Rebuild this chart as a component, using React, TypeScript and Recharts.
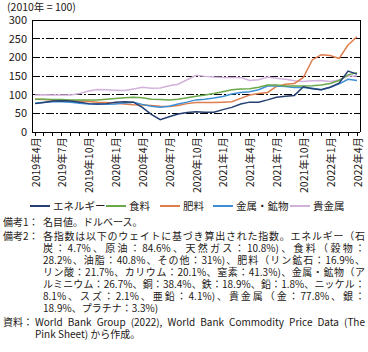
import React from "react";
import { LineChart, Line, XAxis, YAxis, ReferenceLine } from "recharts";

const months = [
  "2019年4月", "2019年5月", "2019年6月", "2019年7月", "2019年8月", "2019年9月",
  "2019年10月", "2019年11月", "2019年12月", "2020年1月", "2020年2月", "2020年3月",
  "2020年4月", "2020年5月", "2020年6月", "2020年7月", "2020年8月", "2020年9月",
  "2020年10月", "2020年11月", "2020年12月", "2021年1月", "2021年2月", "2021年3月",
  "2021年4月", "2021年5月", "2021年6月", "2021年7月", "2021年8月", "2021年9月",
  "2021年10月", "2021年11月", "2021年12月", "2022年1月", "2022年2月", "2022年3月",
  "2022年4月",
];

const energy = [
  76, 79, 83, 84, 83, 80, 76, 75, 76, 80, 81, 80, 66, 47, 33, 41, 48, 52, 54,
  53, 53, 60, 66, 75, 80, 80, 86, 93, 96, 98, 121, 116, 113, 120, 131, 163, 155,
];
const food = [
  88, 88, 87, 87, 86, 86, 86, 86, 88, 90, 92, 93, 92, 88, 87, 86, 88, 92, 96,
  99, 103, 108, 113, 115, 116, 120, 126, 126, 123, 123, 123, 124, 126, 130, 138, 153, 159,
];
const fertilizer = [
  88, 87, 86, 85, 84, 83, 82, 80, 79, 77, 75, 73, 72, 71, 69, 68, 71, 76, 79,
  79, 79, 80, 81, 90, 99, 103, 106, 122, 128, 130, 146, 193, 207, 205, 197, 233, 255,
];
const metals = [
  77, 80, 81, 81, 80, 77, 75, 74, 74, 75, 78, 80, 74, 69, 66, 69, 75, 80, 86,
  88, 91, 95, 102, 106, 108, 113, 123, 123, 122, 119, 119, 117, 113, 120, 129, 141, 138,
];
const precious = [
  99, 100, 99, 99, 99, 103, 110, 114, 113, 112, 111, 115, 120, 117, 118, 124, 128, 140, 152,
  149, 147, 146, 146, 146, 138, 140, 147, 144, 141, 137, 135, 137, 138, 135, 139, 150, 150,
];

const yTicks = [0, 50, 100, 150, 200, 250, 300];

const series = [
  { key: "precious", name: "貴金属", color: "#d2b1dc", values: precious },
  { key: "fertilizer", name: "肥料", color: "#e07d4c", values: fertilizer },
  { key: "metals", name: "金属・鉱物", color: "#3d8fd5", values: metals },
  { key: "food", name: "食料", color: "#6aa84a", values: food },
  { key: "energy", name: "エネルギー", color: "#253f72", values: energy },
];

const legendOrder = ["energy", "food", "fertilizer", "metals", "precious"];
const legendLeft = [30, 106, 160, 213, 290];

const data = months.map((m, i) => {
  const row: Record<string, string | number> = { month: m };
  series.forEach((s) => {
    row[s.key] = s.values[i];
  });
  return row;
});

const FONT = "'Noto Sans CJK JP', 'Noto Sans', sans-serif";
const TEXT = "#231815";

const MonthTick = (props: any) => {
  const { x, y, payload } = props;
  const idx = months.indexOf(payload.value);
  if (idx % 3 !== 0) return null;
  return (
    <text
      x={x}
      y={y}
      transform={`rotate(-90 ${x} ${y})`}
      textAnchor="end"
      dominantBaseline="central"
      fontSize={10.5}
      fill={TEXT}
      fontFamily={FONT}
    >
      {payload.value}
    </text>
  );
};

const note2 = [
  "各指数は以下のウェイトに基づき算出された指数。エネルギー（石",
  "炭：4.7%、原油：84.6%、天然ガス：10.8%)、食料（穀物：",
  "28.2%、油脂：40.8%、その他：31%)、肥料（リン鉱石：16.9%、",
  "リン酸：21.7%、カリウム：20.1%、窒素：41.3%)、金属・鉱物（ア",
  "ルミニウム：26.7%、銅：38.4%、鉄：18.9%、鉛：1.8%、ニッケル：",
  "8.1%、スズ：2.1%、亜鉛：4.1%)、貴金属（金：77.8%、銀：",
  "18.9%、プラチナ：3.3%)",
];
const source = [
  "World Bank Group (2022), World Bank Commodity Price Data (The",
  "Pink Sheet) から作成。",
];

const lineStyle = (justify: boolean): React.CSSProperties => ({
  height: 12,
  lineHeight: "12px",
  textAlign: justify ? "justify" : "left",
  textAlignLast: justify ? "justify" : "left",
  whiteSpace: "nowrap",
});

const axisStroke = { stroke: "#000", shapeRendering: "crispEdges" } as any;

export default function App() {
  return (
    <div
      style={{
        position: "absolute",
        left: 0,
        top: 0,
        width: 368,
        height: 352,
        background: "#fff",
        fontFamily: FONT,
        color: TEXT,
        overflow: "hidden",
      }}
    >
      <div style={{ position: "absolute", left: 7, top: 0, fontSize: 10.5, lineHeight: "14px" }}>
        (2010年 = 100)
      </div>

      <div style={{ position: "absolute", left: 0, top: 0 }}>
        <LineChart width={368} height={200} data={data} margin={{ top: 20, right: 0, bottom: 0, left: 0 }}>
          <XAxis
            dataKey="month"
            interval={0}
            tickSize={4}
            tickMargin={1}
            height={68}
            padding={{ left: 3, right: 3 }}
            axisLine={axisStroke}
            tickLine={axisStroke}
            tick={<MonthTick />}
          />
          <YAxis
            yAxisId="l"
            domain={[0, 300]}
            ticks={yTicks}
            width={32}
            tickSize={0}
            tickMargin={5}
            tickLine={false}
            axisLine={axisStroke}
            tick={{ fontSize: 11, fill: TEXT, fontFamily: FONT }}
          />
          <YAxis
            yAxisId="r"
            orientation="right"
            domain={[0, 300]}
            ticks={yTicks}
            width={8}
            tick={false}
            tickLine={false}
            axisLine={axisStroke}
          />
          {yTicks
            .filter((v) => v > 0 && v < 300)
            .map((v) => (
              <ReferenceLine
                key={v}
                yAxisId="l"
                y={v}
                stroke="#000"
                strokeDasharray="8 2 2 2"
                shapeRendering="crispEdges"
              />
            ))}
          <ReferenceLine yAxisId="l" y={300} stroke="#000" shapeRendering="crispEdges" />
          {series.map((s) => (
            <Line
              key={s.key}
              yAxisId="l"
              type="linear"
              dataKey={s.key}
              name={s.name}
              stroke={s.color}
              strokeWidth={1.5}
              dot={false}
              isAnimationActive={false}
            />
          ))}
        </LineChart>
      </div>

      {legendOrder.map((k, i) => {
        const s = series.find((d) => d.key === k)!;
        return (
          <div
            key={k}
            style={{
              position: "absolute",
              left: legendLeft[i],
              top: 199,
              display: "flex",
              alignItems: "center",
              fontSize: 10.5,
              lineHeight: "14px",
            }}
          >
            <span style={{ display: "inline-block", width: 20, height: 1.5, background: s.color, marginRight: 3 }} />
            <span>{s.name}</span>
          </div>
        );
      })}

      <div style={{ position: "absolute", left: 3, top: 216, width: 362, fontSize: 10 }}>
        <div style={{ display: "flex" }}>
          <div style={{ width: 40, height: 12, lineHeight: "12px" }}>備考1：</div>
          <div style={lineStyle(false)}>名目値。ドルベース。</div>
        </div>
        <div style={{ display: "flex", marginTop: 2 }}>
          <div style={{ width: 40, height: 12, lineHeight: "12px" }}>備考2：</div>
          <div style={{ width: 322 }}>
            {note2.map((t, i) => (
              <div key={i} style={lineStyle(i < note2.length - 1)}>
                {t}
              </div>
            ))}
          </div>
        </div>
        <div style={{ display: "flex", marginTop: 2 }}>
          <div style={{ width: 32, height: 12, lineHeight: "12px" }}>資料：</div>
          <div style={{ width: 330 }}>
            {source.map((t, i) => (
              <div key={i} style={lineStyle(i < source.length - 1)}>
                {t}
              </div>
            ))}
          </div>
        </div>
      </div>
    </div>
  );
}
